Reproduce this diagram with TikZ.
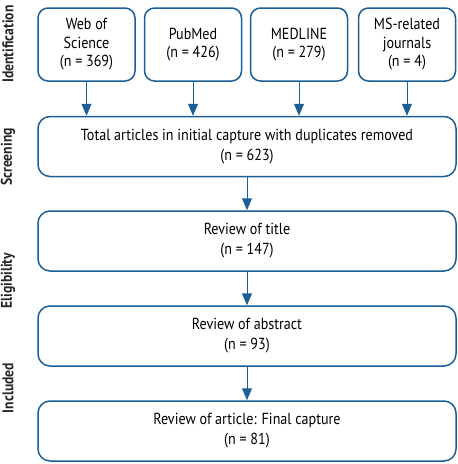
\documentclass[tikz,border=0pt]{standalone}
\usepackage{fontspec}
\setmainfont{PT Sans}[FakeStretch=0.88]
\usepackage{xcolor}
\usepackage{tikz}
\usetikzlibrary{positioning, arrows.meta}

\definecolor{flowblue}{RGB}{28,94,150}

\tikzset{
  srcbox/.style={draw=flowblue, line width=1.5pt, rounded corners=10pt, align=center,
    minimum width=97pt, minimum height=73pt, inner sep=0pt, font=\fontsize{16}{18.5}\selectfont},
  stagebox/.style={draw=flowblue, line width=1.5pt, rounded corners=12pt, align=center,
    minimum width=418pt, minimum height=60pt, inner sep=0pt, font=\fontsize{16}{20}\selectfont},
  flowarrow/.style={draw=flowblue, line width=1pt, -{Triangle[length=12pt,width=10pt]}},
  phase/.style={rotate=90, font=\fontsize{15.5}{16}\selectfont\bfseries, text=black!85}
}

\begin{document}
\begin{tikzpicture}[x=1pt, y=-1pt]
  \useasboundingbox (0,0) rectangle (458,464);

  % sources
  \node[srcbox] (wos) at (86.5,44.5) {Web of\\Science\\(n = 369)};
  \node[srcbox] (pubmed) at (193,44.5) {PubMed\\(n = 426)};
  \node[srcbox] (medline) at (299,44.5) {MEDLINE\\(n = 279)};
  \node[srcbox] (journals) at (407,44.5) {MS-related\\journals\\(n = 4)};

  % stages
  \node[stagebox] (capture) at (247,146.5) {Total articles in initial capture with duplicates removed\\(n = 623)};
  \node[stagebox] (title) at (247,241) {Review of title\\(n = 147)};
  \node[stagebox] (abstract) at (247,336) {Review of abstract\\(n = 93)};
  \node[stagebox] (article) at (247,431) {Review of article: Final capture\\(n = 81)};

  \foreach \src in {wos, pubmed, medline, journals}
    \draw[flowarrow] (\src) -- (\src |- capture.north);
  \draw[flowarrow] (capture) -- (title);
  \draw[flowarrow] (title) -- (abstract);
  \draw[flowarrow] (abstract) -- (article);

  % phases
  \node[phase] (ident) at (8,44) {Identification};
  \node[phase] (screen) at (8,157) {Screening};
  \node[phase] (elig) at (8,281) {Eligibility};
  \node[phase] (incl) at (8,388) {Included};
\end{tikzpicture}
\end{document}
